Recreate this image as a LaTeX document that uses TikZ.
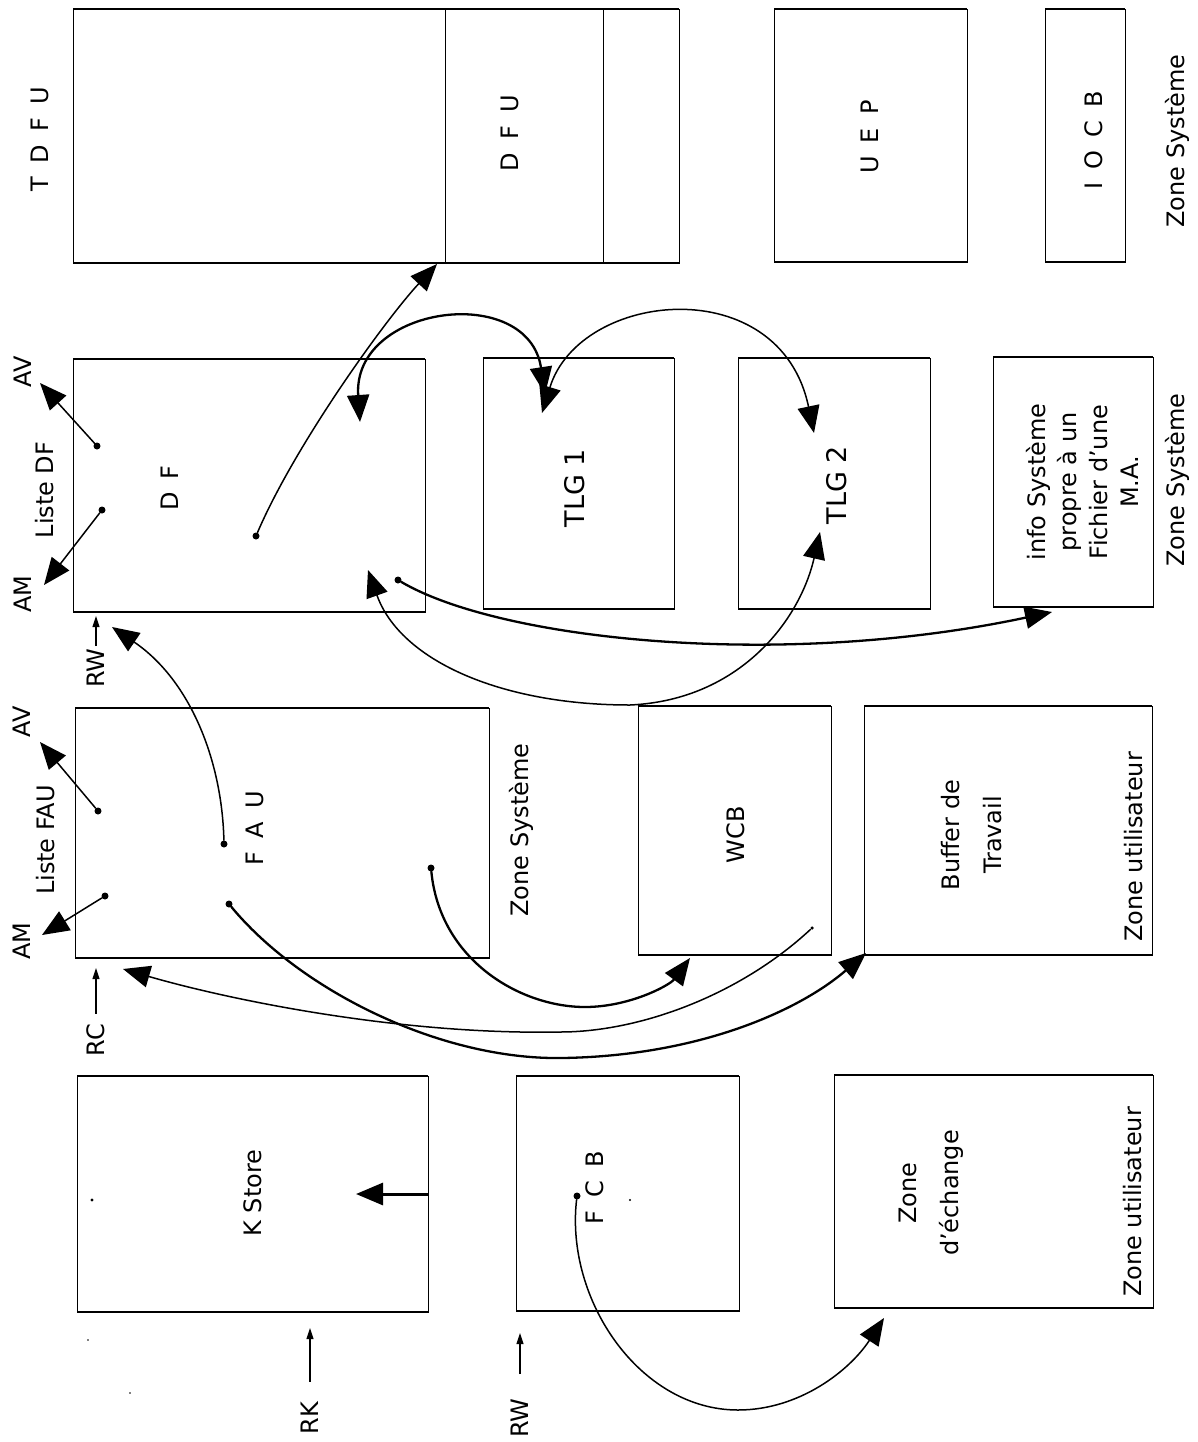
\documentclass[tikz,border=0pt]{standalone}
\usepackage{fontspec}
\setmainfont{DejaVu Sans}
\usetikzlibrary{arrows.meta}
\newcommand\lsp{\hspace{0.55em}}
\begin{document}
\begin{tikzpicture}[x=1pt,y=-1pt,
  membox/.style={draw, line width=0.9pt, inner sep=0pt, outer sep=0pt},
  edge/.style={line width=2pt},
  lbl/.style={rotate=90, align=center, inner sep=2pt, font=\fontsize{24}{29}\selectfont},
  big/.style={font=\fontsize{27}{32}\selectfont},
  conn/.style={line width=1.5pt, line cap=round},
  heavy/.style={line width=2.3pt, line cap=round},
  head/.style={-{Triangle[length=27pt,width=22pt]}},
  twohead/.style={{Triangle[length=27pt,width=22pt]}-{Triangle[length=27pt,width=22pt]}},
  smallarr/.style={line width=1.1pt, -{Triangle[length=11pt,width=7pt]}},
  dot/.style={fill, circle, inner sep=0pt, minimum size=7pt}
]
\useasboundingbox[fill=white] (0,0) rectangle (1197,1442);

% ---- boxes ----
\node[membox, minimum width=606pt, minimum height=254pt] (tdfu) at (376,136) {};
\node[membox, minimum width=193pt, minimum height=253pt] (uep)  at (870.5,135.5) {};
\node[membox, minimum width=80pt,  minimum height=253pt] (iocb) at (1085,135.5) {};
\node[membox, minimum width=352pt, minimum height=253pt] (df)   at (249,485.5) {};
\node[membox, minimum width=191pt, minimum height=251pt] (tlgA) at (578.5,483.5) {};
\node[membox, minimum width=192pt, minimum height=251pt] (tlgB) at (834,483.5) {};
\node[membox, minimum width=160pt, minimum height=250pt] (info) at (1073,482) {};
\node[membox, minimum width=414pt, minimum height=250pt] (fau)  at (282,833) {};
\node[membox, minimum width=193pt, minimum height=249pt] (wcb)  at (734.5,830.5) {};
\node[membox, minimum width=288pt, minimum height=249pt] (buf)  at (1008,830.5) {};
\node[membox, minimum width=351pt, minimum height=236pt] (kst)  at (252.5,1194) {};
\node[membox, minimum width=223pt, minimum height=235pt] (fcb)  at (627.5,1193.5) {};
\node[membox, minimum width=319pt, minimum height=233pt] (ech)  at (993.5,1191.5) {};
\foreach \n in {tdfu,uep,iocb,df,tlgA,tlgB,info,fau,wcb,buf,kst,fcb,ech}
  \draw[edge] (\n.north west) -- (\n.north east) (\n.south west) -- (\n.south east);
% TDFU subdivisions
\draw[line width=0.8pt] (445,9) -- (445,263);
\draw[line width=0.8pt] (603,9) -- (603,263);

% ---- labels ----
\node[lbl] (lTDFU) at (40,139) {T\lsp D\lsp F\lsp U};
\node[lbl] (lDFU)  at (510,133) {D\lsp F\lsp U};
\node[lbl] (lUEP)  at (870,137) {U\lsp E\lsp P};
\node[lbl] (lIOCB) at (1094,140) {I\lsp O\lsp C\lsp B};
\node[lbl] (lZS1)  at (1177,141) {Zone Système};

\node[lbl] (lAV1) at (23,372) {AV};
\node[lbl] (lLDF) at (45,490) {Liste DF};
\node[lbl] (lAM1) at (23,594) {AM};
\node[lbl] (lDF)  at (170,488) {D\lsp F};
\node[lbl,big] (lTLG1) at (575,488) {TLG 1};
\node[lbl,big] (lTLG2) at (837,485) {TLG 2};
\node[lbl, font=\fontsize{24}{31}\selectfont] (lINFO) at (1082,482) {info Système\\propre à un\\Fichier d'une\\M.A.};
\node[lbl] (lZS2) at (1177,480) {Zone Système};
\node[lbl] (lRW1) at (96,668) {RW};

\node[lbl] (lAV2) at (22,722) {AV};
\node[lbl] (lLFAU) at (46,840) {Liste FAU};
\node[lbl] (lAM2) at (22,941) {AM};
\node[lbl] (lFAU) at (255,828) {F\lsp A\lsp U};
\node[lbl] (lZS3) at (521,830) {Zone Système};
\node[lbl] (lWCB) at (736,835) {WCB};
\node[lbl, font=\fontsize{24}{42}\selectfont] (lBUF) at (972,835) {Buffer de\\Travail};
\node[lbl] (lZU1) at (1134,847) {Zone utilisateur};
\node[lbl] (lRC) at (96,1040) {RC};

\node[lbl] (lKS) at (253,1193) {K Store};
\node[lbl] (lFCB) at (595,1188) {F\lsp C\lsp B};
\node[lbl, font=\fontsize{24}{42}\selectfont] (lECH) at (931,1193) {Zone\\d'échange};
\node[lbl] (lZU2) at (1133,1202) {Zone utilisateur};
\node[lbl] (lRK) at (310,1418) {RK};
\node[lbl] (lRW2) at (520,1418) {RW};

% ---- pointer origins (dots) ----
\node[dot] (dfav) at (97,446) {};
\node[dot] (dfam) at (102,510) {};
\node[dot] (dfp)  at (256,536) {};
\node[dot] (dfq)  at (398,580) {};
\node[dot] (fauav) at (98,811) {};
\node[dot] (fauam) at (105,896) {};
\node[dot] (faup) at (224,844) {};
\node[dot] (fauq) at (229,904) {};
\node[dot] (faur) at (431,868) {};
\node[dot, minimum size=3.5pt] (wcbp) at (812,928) {};
\node[dot] (fcbp) at (577,1196) {};
% stray specks
\fill (92,1200) circle (1.6pt);
\fill (630,1200) circle (1.1pt);
\fill (88,1340) circle (0.8pt);
\fill (130,1393) circle (0.8pt);

% ---- arrow targets ----
\coordinate (dfavtip) at (40,383);
\coordinate (dfamtip) at (44,585);
\coordinate (fauavtip) at (40,742);
\coordinate (fauamtip) at (42,935);
\coordinate (tdfutip) at (437,264);
\coordinate (dfin1) at (360,422);
\coordinate (tlgAa) at (545,394);
\coordinate (tlgAb) at (542,413);
\coordinate (tlgBa) at (814,433);
\coordinate (dfin2) at (368,570);
\coordinate (tlgBb) at (820,532);
\coordinate (infotip) at (1052,612);
\coordinate (rwtip) at (112,627);
\coordinate (wcbtip) at (690,958);
\coordinate (rctip) at (123,969);
\coordinate (buftip) at (866,953);
\coordinate (echtip) at (884,1318);
\coordinate (ksttip) at (356,1194);
\coordinate (rw1tip) at (96,616);
\coordinate (rctipS) at (96,968);
\coordinate (rktip) at (310,1328);
\coordinate (rw2tip) at (520,1333);

% ---- connectors ----
\draw[conn, head] (dfav) -- (dfavtip);
\draw[conn, head] (dfam) -- (dfamtip);
\draw[conn, head] (fauav) -- (fauavtip);
\draw[conn, head] (fauam) -- (fauamtip);
\draw[conn, head] (dfp) .. controls (295,445) and (385,320) .. (tdfutip);
\draw[heavy, twohead] (dfin1) .. controls (352,305) and (528,282) .. (tlgAa);
\draw[conn, twohead] (tlgAb) .. controls (580,290) and (780,270) .. (tlgBa);
\draw[conn, twohead] (dfin2) .. controls (400,660) and (500,705) .. (630,705)
      .. controls (740,700) and (800,620) .. (tlgBb);
\draw[heavy, head] (dfq) .. controls (500,640) and (780,670) .. (infotip);
\draw[conn, head] (faup) .. controls (222,760) and (190,680) .. (rwtip);
\draw[heavy, head] (faur) .. controls (440,960) and (520,1007) .. (585,1007)
      .. controls (630,1007) and (670,985) .. (wcbtip);
\draw[conn, head] (wcbp) .. controls (740,995) and (640,1032) .. (560,1032)
      .. controls (400,1035) and (230,1000) .. (rctip);
\draw[heavy, head] (fauq) .. controls (300,990) and (440,1060) .. (562,1058)
      .. controls (700,1056) and (800,1010) .. (buftip);
\draw[conn, head] (fcbp) .. controls (565,1300) and (640,1410) .. (738,1410)
      .. controls (800,1410) and (850,1370) .. (echtip);
\draw[line width=3pt, head] (kst.east) -- (ksttip);

\draw[smallarr] (lRW1.east) -- (rw1tip);
\draw[smallarr, shorten <=8pt] (lRC.east) -- (rctipS);
\draw[smallarr, shorten <=18pt] (lRK.east) -- (rktip);
\draw[smallarr, shorten <=22pt] (lRW2.east) -- (rw2tip);
\end{tikzpicture}
\end{document}
